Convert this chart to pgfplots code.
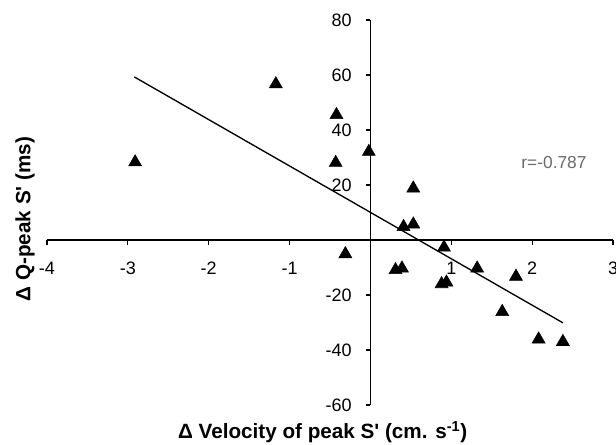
\documentclass[border=0pt]{standalone}
\usepackage{fontspec}
\setmainfont{Liberation Sans}
\usepackage{pgfplots}
\pgfplotsset{compat=1.18}
\begin{document}
\begin{tikzpicture}
\begin{axis}[
  scale only axis, width=424.5pt, height=288.75pt,
  xmin=-4, xmax=3, ymin=-60, ymax=80,
  axis lines=middle,
  axis line style={-, line width=1pt},
  every inner x axis line/.append style={-},
  every inner y axis line/.append style={-},
  xtick={-4,-3,-2,-1,0,1,2,3}, ytick={-60,-40,-20,0,20,40,60,80},
  tick align=outside, major tick length=3.5pt,
  tick style={line width=0.8pt, black},
  /pgf/number format/assume math mode=true,
  ticklabel style={font=\fontsize{13.5}{16}\selectfont},
  xticklabel style={anchor=center, yshift=-18pt},
  yticklabel style={anchor=east, xshift=-7pt},
  clip=false,
]
\addplot[only marks, mark=triangle*, mark size=5.6pt, color=black] table {
x y
-2.91 28.3
-1.17 56.7
-0.42 45.5
-0.43 28.1
-0.02 32.1
-0.31 -5.1
0.53 18.8
0.41 4.8
0.53 5.7
0.31 -10.9
0.39 -10.3
0.91 -2.7
0.88 -16.0
0.94 -15.4
1.32 -10.3
1.80 -13.3
1.63 -26.1
2.08 -36.1
2.38 -37.0
};
\addplot[black, line width=1pt, no marks] coordinates {(-2.92,59.3) (2.38,-30.1)};
\node[text=black!58, font=\fontsize{13}{15}\selectfont] at (axis cs:2.27,28) {r=-0.787};
\coordinate (sw) at (rel axis cs:0,0);
\coordinate (ne) at (rel axis cs:1,1);
\node[font=\bfseries\fontsize{15.5}{18}\selectfont] at ([yshift=-20.25pt]rel axis cs:0.487,0) {Δ Velocity of peak S\textquotesingle{} (cm. s\textsuperscript{-1})};
\node[font=\bfseries\fontsize{15.5}{18}\selectfont, rotate=90] at ([xshift=-16.5pt]rel axis cs:0,0.483) {Δ Q-peak S\textquotesingle{} (ms)};
\end{axis}
\pgfresetboundingbox
\path ([shift={(-35.25pt,-29.25pt)}]sw) rectangle ([shift={(2.25pt,15pt)}]ne);
\end{tikzpicture}
\end{document}
